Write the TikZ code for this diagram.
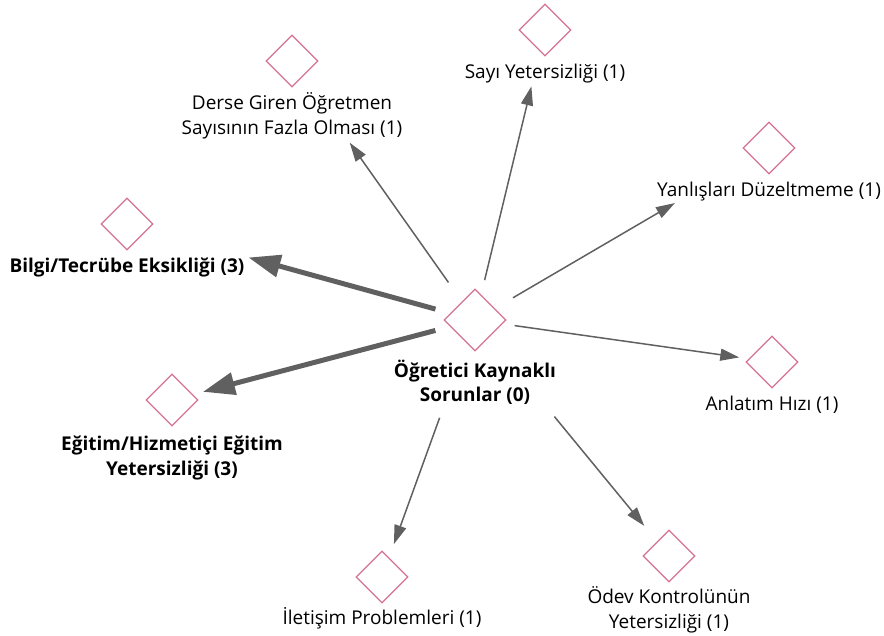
\documentclass[tikz,border=0pt]{standalone}
\usepackage{fontspec}
\setmainfont{Open Sans}
\usetikzlibrary{positioning}
\usetikzlibrary{arrows.meta}
\usetikzlibrary{shapes.geometric}

\definecolor{kodpink}{RGB}{214,112,150}
\definecolor{okgray}{RGB}{96,96,96}

\tikzset{
    kod/.style={diamond, draw=kodpink, line width=1.3pt, minimum width=52pt, minimum height=52pt, inner sep=0pt},
    anakod/.style={kod, minimum width=62pt, minimum height=62pt},
    etiket/.style={font=\fontsize{19}{24.5}\selectfont, align=center, inner sep=0pt},
    koyu/.style={etiket, font=\fontsize{19}{24.5}\selectfont\bfseries},
    ince/.style={draw=okgray, line width=1.5pt, -{Triangle[length=19pt,width=12pt]}},
    kalin/.style={draw=okgray, line width=5pt, -{Triangle[length=32pt,width=22pt]}},
}

\begin{document}
\begin{tikzpicture}[x=1pt, y=-1pt]
        \useasboundingbox (0,0) rectangle (884,635);

        \node[anakod, name=ogretici] at (475,320) {};
        \node[koyu, below=8pt of ogretici, name=ogreticiL] {Öğretici Kaynaklı\\Sorunlar (0)};

        \node[kod, name=bilgi] at (127,224) {};
        \node[koyu, below=7pt of bilgi, name=bilgiL] {Bilgi/Tecrübe Eksikliği (3)};

        \node[kod, name=derse] at (292,61) {};
        \node[etiket, below=5pt of derse, name=derseL] {Derse Giren Öğretmen\\Sayısının Fazla Olması (1)};

        \node[kod, name=sayi] at (545,30) {};
        \node[etiket, below=7pt of sayi, name=sayiL] {Sayı Yetersizliği (1)};

        \node[kod, name=yanlis] at (769,148) {};
        \node[etiket, below=7pt of yanlis, name=yanlisL] {Yanlışları Düzeltmeme (1)};

        \node[kod, name=anlatim] at (772,362) {};
        \node[etiket, below=7pt of anlatim, name=anlatimL] {Anlatım Hızı (1)};

        \node[kod, name=odev] at (669,556) {};
        \node[etiket, below=4pt of odev, name=odevL] {Ödev Kontrolünün\\Yetersizliği (1)};

        \node[kod, name=iletisim] at (382,577) {};
        \node[etiket, below=4pt of iletisim, name=iletisimL] {İletişim Problemleri (1)};

        \node[kod, name=egitim] at (172,400) {};
        \node[koyu, below=9pt of egitim, name=egitimL] {Eğitim/Hizmetiçi Eğitim\\Yetersizliği (3)};

        \draw[kalin, shorten <=41pt, shorten >=126pt] (ogretici.center) -- (bilgi.center);
        \draw[kalin, shorten <=41pt, shorten >=32pt] (ogretici.center) -- (egitim.center);
        \draw[ince, shorten <=46pt, shorten >=100pt] (ogretici.center) -- (derse.center);
        \draw[ince, shorten <=41pt, shorten >=58pt] (ogretici.center) -- (sayi.center);
        \draw[ince, shorten <=44pt, shorten >=109pt] (ogretici.center) -- (yanlis.center);
        \draw[ince, shorten <=40pt, shorten >=33pt] (ogretici.center) -- (anlatim.center);
        \draw[ince, shorten <=125pt, shorten >=39pt] (ogretici.center) -- (odev.center);
        \draw[ince, shorten <=104pt, shorten >=35pt] (ogretici.center) -- (iletisim.center);
    \end{tikzpicture}
\end{document}
